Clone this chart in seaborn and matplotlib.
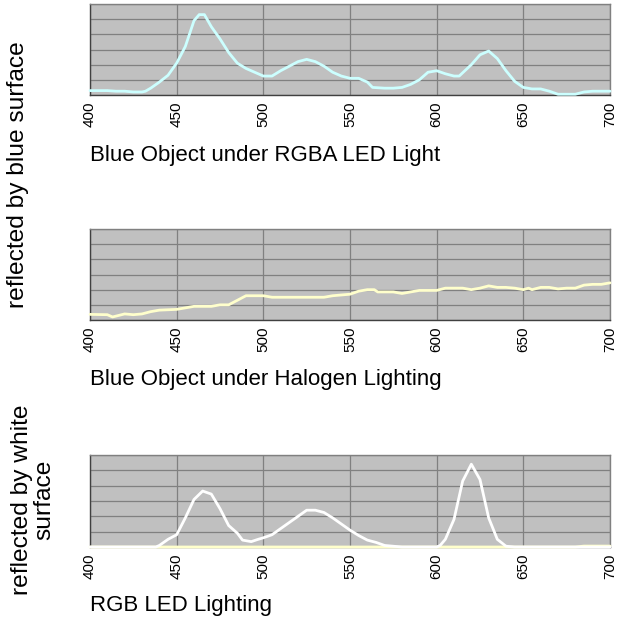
import matplotlib
matplotlib.use("Agg")
import matplotlib.pyplot as plt
import seaborn as sns
import pandas as pd
from matplotlib import font_manager

# Panel 1: blue object under RGBA LED light (cyan)
wl_rgba = [400, 410, 415, 420, 425, 430, 432, 435, 440, 445, 450, 455, 460, 463, 466, 470, 475, 480, 485, 490,
           495, 500, 505, 510, 515, 520, 525, 530, 535, 540, 545, 550, 555, 560, 563, 570, 575, 580, 585, 590,
           595, 600, 605, 610, 613, 620, 625, 630, 635, 640, 645, 650, 655, 660, 665, 670, 675, 680, 685, 690,
           695, 700]
val_rgba = [0.29, 0.29, 0.25, 0.25, 0.2, 0.2, 0.25, 0.45, 0.85, 1.3, 2.1, 3.2, 4.9, 5.3, 5.3, 4.5, 3.7, 2.8, 2.1, 1.75,
            1.5, 1.25, 1.25, 1.6, 1.9, 2.2, 2.35, 2.2, 1.9, 1.5, 1.25, 1.1, 1.1, 0.85, 0.5, 0.45, 0.45, 0.5, 0.7, 1.0,
            1.5, 1.6, 1.4, 1.25, 1.25, 2.0, 2.65, 2.9, 2.4, 1.6, 0.9, 0.5, 0.4, 0.4, 0.25, 0.05, 0.05, 0.05, 0.2, 0.25,
            0.25, 0.25]

# Panel 2: blue object under halogen lighting (yellow)
wl_hal = [400, 410, 413, 420, 425, 430, 435, 440, 450, 455, 460, 470, 475, 480, 485, 490, 495, 500, 505, 510,
          520, 530, 535, 540, 545, 550, 555, 560, 564, 566, 575, 580, 585, 590, 595, 600, 605, 615, 620, 625,
          630, 635, 640, 645, 650, 653, 655, 660, 665, 670, 675, 680, 685, 690, 695, 700]
val_hal = [0.37, 0.35, 0.2, 0.4, 0.35, 0.4, 0.55, 0.65, 0.7, 0.8, 0.9, 0.9, 1.0, 1.0, 1.3, 1.6, 1.6, 1.6, 1.5, 1.5,
           1.5, 1.5, 1.5, 1.6, 1.65, 1.7, 1.9, 2.0, 2.0, 1.85, 1.85, 1.75, 1.85, 1.95, 1.95, 1.95, 2.1, 2.1, 2.0, 2.1,
           2.25, 2.15, 2.15, 2.1, 2.0, 2.1, 2.0, 2.15, 2.15, 2.05, 2.1, 2.1, 2.3, 2.35, 2.35, 2.45]

# Panel 3: RGB LED lighting reflected by white surface (white)
wl_rgb = [400, 438, 440, 445, 450, 455, 460, 465, 470, 475, 480, 485, 488, 493, 497, 500, 505, 510, 515, 520,
          525, 530, 535, 540, 545, 550, 555, 560, 565, 570, 575, 580, 600, 602, 605, 610, 615, 620, 625, 630,
          635, 640, 645, 700]
val_rgb = [0, 0, 0.1, 0.5, 0.8, 1.9, 3.1, 3.65, 3.45, 2.5, 1.4, 0.9, 0.45, 0.35, 0.5, 0.6, 0.8, 1.2, 1.6, 2.0,
           2.4, 2.4, 2.25, 1.9, 1.5, 1.1, 0.75, 0.45, 0.3, 0.1, 0.05, 0, 0, 0.1, 0.5, 1.8, 4.3, 5.4, 4.4, 1.9,
           0.5, 0.05, 0, 0]
# faint yellow baseline in panel 3
wl_base = [400, 680, 685, 700]
val_base = [0.0, 0.0, 0.06, 0.06]

titles = ["Blue Object under RGBA LED Light", "Blue Object under Halogen Lighting", "RGB LED Lighting"]
xticks = [400, 450, 500, 550, 600, 650, 700]

sns.set_style("whitegrid")
names = {f.name for f in font_manager.fontManager.ttflist}
narrow = "Liberation Sans Narrow" in names
fam = ['Liberation Sans Narrow', 'Liberation Sans', 'DejaVu Sans'] if narrow else ['Liberation Sans', 'DejaVu Sans']
plt.rcParams['font.family'] = fam
plt.rcParams['text.color'] = 'black'
k = 1.0 if narrow else 0.82

fig = plt.figure(figsize=(6.2, 6.26), dpi=100)
W, H = 620, 626

def make_ax(top, bottom):
    return fig.add_axes([90 / W, 1 - bottom / H, 520 / W, (bottom - top) / H])

axes = [make_ax(4, 95), make_ax(229, 320), make_ax(455, 547)]
series = [
    [(wl_rgba, val_rgba, "#CCFFFF")],
    [(wl_hal, val_hal, "#FFFFCC")],
    [(wl_base, val_base, "#FFFFCC"), (wl_rgb, val_rgb, "#FFFFFF")],
]
title_y = [156, 379, 605]

for ax, ser, title, ty in zip(axes, series, titles, title_y):
    ax.set_facecolor("#C0C0C0")
    for wl, val, col in ser:
        df = pd.DataFrame({"wl": wl, "v": val})
        sns.lineplot(data=df, x="wl", y="v", ax=ax, color=col, linewidth=2.0, clip_on=False, zorder=3)
    ax.set_xlim(400, 700)
    ax.set_ylim(0, 6)
    ax.set_xticks(xticks)
    ax.set_xticklabels([str(t) for t in xticks], rotation=90, fontsize=11 * (1.0 if not narrow else 1.2))
    ax.set_yticks(range(7))
    ax.set_yticklabels([])
    ax.grid(True, color="#808080", linewidth=0.9)
    ax.set_axisbelow(True)
    ax.set_xlabel("")
    ax.set_ylabel("")
    for s in ["top", "right"]:
        ax.spines[s].set_color("#808080")
        ax.spines[s].set_linewidth(1.0)
    for s in ["left", "bottom"]:
        ax.spines[s].set_color("#404040")
        ax.spines[s].set_linewidth(1.0)
    ax.tick_params(axis="both", which="major", length=3, width=1, color="#404040", pad=2)
    ax.tick_params(axis="x", colors="black")
    fig.text(90 / W, 1 - ty / H, title, ha="left", va="center", fontsize=19.5 * k)

fig.text(18 / W, 1 - 175 / H, "reflected by blue surface", rotation=90, ha="center", va="center",
         fontsize=21.5 * k)
fig.text(33 / W, 1 - 500 / H, "reflected by white\nsurface", rotation=90, ha="center", va="center",
         fontsize=21.5 * k, multialignment="center", linespacing=1.05)

fig.savefig("out.png", dpi=100)
